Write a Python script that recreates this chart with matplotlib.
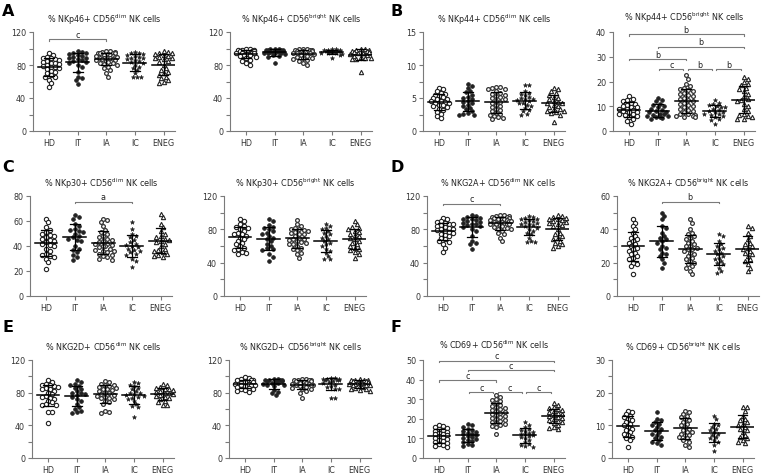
import numpy as np
import matplotlib.pyplot as plt

groups = ["HD", "IT", "IA", "IC", "ENEG"]

# values, one list per group: HD, IT, IA, IC, ENEG
nkp46_dim = [
    [94, 92, 90, 89, 88, 87, 86, 85, 84, 83, 82, 81, 80, 79, 78, 77, 76, 75, 73, 72, 70, 68, 66, 65, 62, 58, 53],
    [97, 96, 95, 94, 93, 92, 91, 90, 89, 88, 87, 86, 85, 84, 83, 80, 78, 72, 66, 64, 62, 57],
    [97, 97, 96, 96, 95, 95, 94, 94, 93, 93, 92, 92, 91, 91, 90, 90, 89, 89, 88, 88, 87, 87, 86, 86, 85, 84,
     83, 82, 81, 80, 78, 76, 74, 70, 66],
    [96, 95, 94, 93, 92, 91, 90, 89, 88, 87, 86, 85, 84, 82, 80, 78, 76, 74, 70, 66, 65, 65],
    [97, 96, 95, 94, 93, 92, 91, 90, 89, 88, 87, 85, 84, 80, 76, 74, 72, 70, 68, 66, 64, 62, 60, 58],
]
nkp46_bright = [
    [99, 99, 98, 98, 98, 97, 97, 97, 96, 96, 96, 95, 95, 95, 94, 94, 93, 93, 92, 92, 91, 90, 88, 86, 85, 82, 80],
    [99, 99, 99, 98, 98, 98, 98, 97, 97, 97, 96, 96, 96, 95, 95, 94, 94, 93, 92, 91, 90, 83],
    [99, 99, 99, 98, 98, 98, 97, 97, 97, 96, 96, 96, 95, 95, 95, 94, 94, 93, 92, 91, 90, 89, 88, 87, 86,
     85, 82, 80],
    [99, 99, 98, 98, 98, 97, 97, 97, 96, 96, 96, 95, 95, 94, 93, 92, 88],
    [99, 99, 98, 98, 97, 97, 96, 96, 95, 95, 94, 93, 92, 91, 90, 89, 88, 87, 87, 72],
]
nkp44_dim = [
    [6.5, 6.3, 6.0, 5.8, 5.6, 5.5, 5.3, 5.1, 5.0, 4.9, 4.8, 4.6, 4.5, 4.4, 4.3, 4.2, 4.0, 3.9, 3.8, 3.6, 3.4,
     3.2, 2.9, 2.6, 2.2, 2.0],
    [7.1, 6.8, 6.5, 6.0, 5.9, 5.5, 5.2, 5.0, 4.8, 4.6, 4.4, 4.2, 4.0, 3.8, 3.5, 3.3, 3.0, 2.8, 2.6, 2.5, 2.5],
    [6.7, 6.6, 6.5, 6.4, 6.3, 6.0, 5.8, 5.6, 5.5, 5.3, 5.1, 5.0, 4.8, 4.6, 4.4, 4.2, 4.0, 3.8, 3.6, 3.4, 3.2,
     3.0, 2.8, 2.6, 2.5, 2.3, 2.1, 1.9, 1.8],
    [6.9, 6.9, 6.0, 5.8, 5.6, 5.4, 5.2, 5.0, 4.9, 4.8, 4.7, 4.5, 4.3, 4.2, 4.0, 3.8, 3.5, 3.2, 3.0, 2.6, 2.5],
    [6.5, 6.3, 6.0, 5.7, 5.5, 5.2, 5.0, 4.8, 4.6, 4.4, 4.3, 4.2, 4.0, 3.8, 3.6, 3.4, 3.3, 3.1, 3.0, 2.9, 2.7,
     2.5, 1.3],
]
nkp44_bright = [
    [14, 13, 12.5, 12, 11.5, 11, 10.5, 10, 9.8, 9.5, 9, 8.8, 8.5, 8, 7.8, 7.5, 7, 6.8, 6.5, 6, 5.5, 5, 4, 3],
    [13.5, 12.5, 12, 11, 10.5, 10, 9.5, 9, 8.5, 8, 7.8, 7.5, 7, 6.8, 6.5, 6.2, 6, 5.8, 5.5, 5.3, 5],
    [22.5, 21, 19, 18, 17.5, 17, 16.5, 16, 15.5, 15, 14.5, 14, 13.5, 13, 12.5, 12, 11.5, 11, 10.5, 10, 9.5,
     9, 8.5, 8, 7.5, 7, 6.8, 6.5, 6.2, 6, 5.8, 5.5],
    [12.5, 11.5, 11, 10.5, 10, 9.8, 9.5, 9, 8.5, 8, 7.8, 7.5, 7, 6.8, 6.5, 6, 5.5, 5, 4.5, 3],
    [22, 21, 20, 19, 18.5, 17.5, 17, 16, 15, 14, 13, 12.5, 12, 11, 10, 9, 8, 7, 6.5, 6, 5.5, 5, 5],
]
nkp30_dim = [
    [62, 59, 55, 53, 51, 50, 49, 48, 47, 46, 45, 44, 43, 42, 41, 40, 38, 36, 34, 33, 32, 31, 30, 27, 22],
    [65, 63, 62, 58, 56, 54, 53, 52, 51, 50, 48, 47, 46, 45, 44, 40, 38, 37, 35, 33, 31, 29],
    [62, 61, 59, 56, 53, 51, 50, 48, 47, 46, 45, 44, 43, 42, 42, 41, 40, 40, 39, 38, 37, 36, 36, 35, 34, 33,
     32, 31, 30, 29],
    [59, 54, 50, 48, 47, 45, 43, 42, 41, 40, 39, 38, 37, 36, 35, 34, 33, 30, 28, 23],
    [66, 63, 58, 55, 52, 50, 48, 47, 46, 45, 44, 43, 42, 40, 38, 37, 36, 35, 34, 33, 32, 31],
]
nkp30_bright = [
    [92, 90, 86, 84, 83, 82, 80, 78, 76, 75, 74, 72, 70, 68, 66, 64, 62, 60, 58, 56, 55, 53, 52, 50],
    [92, 90, 85, 83, 82, 80, 78, 76, 75, 72, 70, 68, 66, 63, 60, 58, 56, 55, 50, 47, 42],
    [91, 86, 84, 82, 81, 80, 79, 78, 77, 76, 75, 74, 72, 70, 69, 68, 67, 66, 65, 64, 63, 62, 60, 58, 57, 55,
     52, 50, 46],
    [87, 84, 82, 80, 78, 76, 74, 72, 70, 68, 66, 64, 62, 60, 57, 54, 52, 48, 45, 44],
    [90, 86, 83, 82, 80, 78, 77, 75, 73, 72, 70, 68, 66, 64, 62, 60, 58, 57, 55, 53, 50, 46],
]
nkg2a_dim = [list(v) for v in nkp46_dim]
nkg2a_bright = [
    [46, 44, 42, 40, 38, 36, 35, 34, 33, 32, 31, 30, 29, 28, 27, 26, 25, 24, 23, 22, 20, 19, 18, 13],
    [50, 48, 46, 42, 41, 38, 36, 35, 34, 33, 32, 30, 29, 28, 26, 25, 24, 22, 20, 17],
    [46, 44, 40, 38, 37, 36, 35, 34, 33, 32, 31, 30, 30, 29, 28, 28, 27, 26, 25, 24, 23, 22, 21, 20, 19, 18,
     17, 15, 13],
    [37, 36, 33, 31, 30, 29, 28, 27, 26, 25, 24, 23, 22, 21, 20, 19, 17, 15, 14],
    [42, 41, 38, 36, 34, 32, 31, 30, 29, 28, 27, 26, 25, 24, 22, 21, 19, 17, 15],
]
nkg2d_dim = [
    [95, 93, 91, 90, 89, 88, 87, 86, 85, 84, 82, 80, 78, 76, 75, 74, 72, 70, 68, 66, 65, 65, 56, 56, 43],
    [95, 93, 91, 90, 88, 86, 84, 82, 80, 79, 78, 77, 75, 72, 70, 66, 62, 60, 58, 56, 55],
    [94, 93, 91, 90, 89, 88, 87, 86, 85, 84, 83, 82, 80, 79, 78, 77, 76, 75, 74, 73, 72, 70, 68, 66, 58, 56, 55],
    [93, 92, 90, 88, 86, 84, 82, 80, 79, 78, 77, 76, 75, 74, 72, 70, 66, 64, 62, 50],
    [91, 89, 87, 86, 85, 84, 83, 82, 81, 80, 79, 78, 77, 76, 75, 74, 72, 70, 68, 65, 65],
]
nkg2d_bright = [
    [99, 98, 97, 96, 95, 95, 94, 93, 93, 92, 91, 91, 90, 90, 89, 88, 87, 86, 85, 84, 83, 82, 81],
    [97, 97, 96, 96, 95, 95, 94, 94, 93, 93, 92, 92, 91, 90, 89, 88, 83, 81, 79, 77],
    [97, 97, 96, 96, 95, 95, 94, 94, 93, 93, 92, 92, 91, 91, 90, 90, 89, 89, 88, 87, 86, 85, 84, 82, 80, 73],
    [98, 98, 97, 97, 97, 96, 96, 95, 94, 93, 92, 90, 88, 87, 85, 84, 74, 74],
    [97, 96, 96, 95, 95, 94, 94, 93, 93, 92, 92, 91, 91, 90, 90, 89, 88, 87, 86, 85, 84, 83, 82],
]
cd69_dim = [
    [17, 16.5, 16, 15.5, 15, 14.5, 14, 13.5, 13, 12.5, 12, 11.5, 11, 10.5, 10, 9.5, 9, 8.5, 8, 7.5, 7, 6.5,
     6, 5.5],
    [17.5, 17, 16, 15, 14.5, 14, 13.5, 13, 12.5, 12, 11.5, 11, 10.5, 10, 9.5, 9, 8.5, 8, 7, 6.5, 6],
    [32, 31, 30, 29.5, 29, 28, 27, 26.5, 26, 25.5, 25, 24.5, 24, 23.5, 23, 22.5, 22, 21.5, 21, 20.5, 20,
     19.5, 19, 18.5, 18, 17.5, 17, 16.5, 16, 12],
    [18.5, 17, 16, 15, 14.5, 14, 13.5, 13, 12.5, 12, 11.5, 11, 10.5, 10, 9, 8, 7, 6.5, 6, 5.5],
    [28, 27, 26, 25.5, 25, 24.5, 24, 23.5, 23, 22.5, 22, 21.5, 21, 20.5, 20, 19.5, 19, 18.5, 18, 17, 16,
     15.5, 15],
]
cd69_bright = [
    [14.5, 14, 13.5, 13, 12.5, 12, 11.5, 11, 10.5, 10, 9.5, 9, 8.5, 8, 7.5, 7, 6.5, 6, 5.5, 3.5],
    [14, 12, 11.5, 11, 10.5, 10, 9.5, 9, 8.5, 8, 7.5, 7, 6.5, 6, 5.5, 5, 4.5, 4],
    [14.5, 14, 13.5, 13, 12.5, 12, 11.5, 11, 10.5, 10, 9.5, 9, 8.5, 8, 8, 7.5, 7, 7, 6.5, 6, 5.5, 5, 4, 3.5],
    [13, 12, 10.5, 10, 9.5, 9, 8.5, 8, 7.5, 7, 6.5, 6, 5.5, 5, 4, 2],
    [15.5, 15.5, 14.5, 13, 12, 11.5, 11, 10.5, 10, 9.5, 9, 8.5, 8, 7, 6.5, 6, 5.5, 5, 4.5],
]

# significance bars: (from group, to group, height, letter)
sig_nkp46_dim = [(0, 2, 111, "c")]
sig_nkp44_bright = [(0, 4, 39, "b"), (1, 4, 34, "b"), (0, 2, 29, "b"),
                    (1, 2, 25, "c"), (2, 3, 25, "b"), (3, 4, 25, "b")]
sig_nkp30_dim = [(1, 3, 75.5, "a")]
sig_nkg2a_dim = [(0, 2, 111, "c")]
sig_nkg2a_bright = [(1, 3, 56.6, "b")]
sig_cd69_dim = [(0, 4, 49.5, "c"), (1, 4, 44.8, "c"), (0, 2, 39.6, "c"),
                (1, 2, 33.6, "c"), (2, 3, 33.6, "c"), (3, 4, 33.6, "c")]

W, H = 769, 477
fig = plt.figure(figsize=(W / 100, H / 100), dpi=100)
plt.rcParams["font.family"] = "DejaVu Sans"

ink = "#222222"
axis_col = "#7a7a7a"
styles = [
    dict(marker="o", ms=3.1, mfc="white", mec=ink, mew=0.8),
    dict(marker="o", ms=2.7, mfc=ink, mec=ink, mew=0.5),
    dict(marker="o", ms=2.7, mfc="white", mec="#333333", mew=0.9),
    dict(marker="*", ms=3.2, mfc=ink, mec=ink, mew=0.4),
    dict(marker="^", ms=3.1, mfc="white", mec=ink, mew=0.8),
]

XMIN, XMAX = -0.56, 4.4
FS = 5.8


def swarm(values, px_x, px_y, d=3.8, limit=11):
    # simple beeswarm in pixel space; returns x offsets in category units
    order = np.argsort(values)[::-1]
    placed = []
    offs = np.zeros(len(values))
    cands = [0]
    for k in range(1, 12):
        cands += [k * d * 0.55, -k * d * 0.55]
    for i in order:
        y = values[i] * px_y
        best = None
        for c in cands:
            if abs(c) > limit:
                continue
            if all((c - px) ** 2 + (y - py) ** 2 >= d * d for px, py in placed):
                best = c
                break
        if best is None:
            best = cands[len(placed) % 8]
        placed.append((best, y))
        offs[i] = best / px_x
    return offs


def panel(left, top, bottom, ymax, major, minor, title, data, sigs=()):
    width = 142
    ax = fig.add_axes([left / W, 1 - bottom / H, width / W, (bottom - top) / H])
    ax.set_xlim(XMIN, XMAX)
    ax.set_ylim(0, ymax)
    px_x = width / (XMAX - XMIN)
    px_y = (bottom - top) / ymax
    for k, vals in enumerate(data):
        vals = np.array(vals, dtype=float)
        xo = swarm(vals, px_x, px_y)
        ax.plot(k + xo, vals, ls="none", clip_on=False, zorder=3, **styles[k])
        m, s = vals.mean(), vals.std(ddof=1)
        ax.plot([k - 0.4, k + 0.4], [m, m], color="black", lw=1.1, zorder=4)
        ax.plot([k, k], [m - s, m + s], color="black", lw=0.9, zorder=4)
        for yy in (m - s, m + s):
            ax.plot([k - 0.17, k + 0.17], [yy, yy], color="black", lw=0.9, zorder=4)
    for i, j, yb, lab in sigs:
        x0, x1 = (i + 0.05, j - 0.1) if j - i == 1 else (i, j)
        tick = 1.2 / px_y
        ax.plot([x0, x0, x1, x1], [yb - tick, yb, yb, yb - tick], color=axis_col, lw=0.8, clip_on=False)
        ax.text((x0 + x1) / 2, yb + 0.6 / px_y, lab, ha="center", va="bottom", fontsize=FS, color=ink)
    for sp in ("top", "right"):
        ax.spines[sp].set_visible(False)
    for sp in ("left", "bottom"):
        ax.spines[sp].set_color(axis_col)
        ax.spines[sp].set_linewidth(0.8)
    ax.spines["left"].set_bounds(0, ymax)
    ax.set_xticks(range(5))
    ax.set_xticklabels(groups)
    ax.set_yticks(np.arange(0, ymax + 0.01, major))
    if minor:
        ax.set_yticks(np.arange(0, ymax + 0.01, minor), minor=True)
    ax.tick_params(axis="both", which="both", direction="out", color=axis_col, width=0.8,
                   length=3, labelsize=FS, labelcolor="#333333")
    ax.tick_params(axis="x", pad=2)
    ax.tick_params(axis="y", pad=2)
    ax.set_title(title, fontsize=FS, color=ink, pad=8.5 if sigs and max(s[2] for s in sigs) > 0.95 * ymax else 7)
    return ax


panel(33, 33, 132, 120, 40, 20, r"% NKp46+ CD56$^{\mathrm{dim}}$ NK cells", nkp46_dim, sig_nkp46_dim)
panel(230, 33, 132, 120, 40, 20, r"% NKp46+ CD56$^{\mathrm{bright}}$ NK cells", nkp46_bright)
panel(423, 33, 132, 15, 5, 2.5, r"% NKp44+ CD56$^{\mathrm{dim}}$ NK cells", nkp44_dim)
panel(613, 33, 132, 40, 10, None, r"% NKp44+ CD56$^{\mathrm{bright}}$ NK cells", nkp44_bright, sig_nkp44_bright)

panel(30, 197, 297, 80, 20, None, r"% NKp30+ CD56$^{\mathrm{dim}}$ NK cells", nkp30_dim, sig_nkp30_dim)
panel(224, 197, 297, 120, 40, 20, r"% NKp30+ CD56$^{\mathrm{bright}}$ NK cells", nkp30_bright)
panel(427, 197, 297, 120, 40, 20, r"% NKG2A+ CD56$^{\mathrm{dim}}$ NK cells", nkg2a_dim, sig_nkg2a_dim)
panel(617, 197, 297, 60, 20, 10, r"% NKG2A+ CD56$^{\mathrm{bright}}$ NK cells", nkg2a_bright, sig_nkg2a_bright)

panel(32, 361, 459, 120, 40, 20, r"% NKG2D+ CD56$^{\mathrm{dim}}$ NK cells", nkg2d_dim)
panel(229, 361, 459, 120, 40, 20, r"% NKG2D+ CD56$^{\mathrm{bright}}$ NK cells", nkg2d_bright)
panel(423, 361, 459, 50, 10, None, r"% CD69+ CD56$^{\mathrm{dim}}$ NK cells", cd69_dim, sig_cd69_dim)
panel(612, 361, 459, 30, 10, 5, r"% CD69+ CD56$^{\mathrm{bright}}$ NK cells", cd69_bright)

for lab, x, y in [("A", 2, 4), ("B", 390, 4), ("C", 2, 160), ("D", 390, 160), ("E", 2, 320), ("F", 390, 320)]:
    fig.text(x / W, 1 - y / H, lab, fontsize=11.5, fontweight="bold", ha="left", va="top", color="black")

fig.savefig("out.png", dpi=100)
